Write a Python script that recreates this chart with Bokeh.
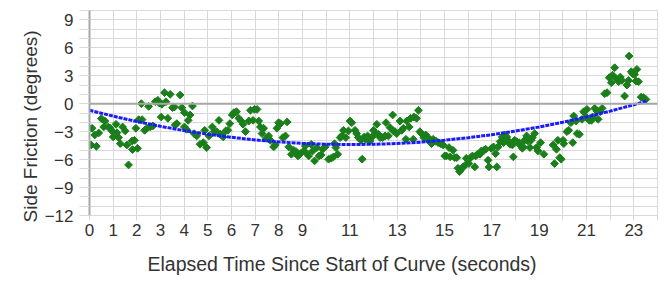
import numpy as np
from bokeh.plotting import figure
from bokeh.models import FixedTicker, Span, Title, Range1d
from bokeh.embed import file_html
from bokeh.resources import INLINE

# ---- data ----
time_s = [
    0.0, 0.07, 0.11, 0.22, 0.29, 0.39, 0.5, 0.6, 0.65, 0.79, 0.88, 0.95, 1.0, 1.12, 1.16, 1.23, 1.3, 1.4,
    1.51, 1.58, 1.65, 1.8, 1.82, 1.9, 1.96, 2.03, 2.08, 2.19, 2.22, 2.33, 2.43, 2.5, 2.57, 2.68, 2.78, 2.89,
    2.95, 3.03, 3.06, 3.17, 3.23, 3.31, 3.41, 3.51, 3.59, 3.62, 3.69, 3.83, 3.9, 4.01, 4.01, 4.1, 4.17, 4.25,
    4.35, 4.42, 4.53, 4.67, 4.81, 4.87, 4.95, 5.05, 5.19, 5.26, 5.37, 5.47, 5.54, 5.65, 5.75, 5.85, 5.93,
    6.03, 6.1, 6.21, 6.31, 6.41, 6.49, 6.59, 6.73, 6.8, 6.91, 6.97, 7.08, 7.15, 7.22, 7.29, 7.36, 7.47,
    7.57, 7.64, 7.78, 7.85, 7.92, 7.99, 8.07, 8.17, 8.28, 8.35, 8.42, 8.53, 8.63, 8.73, 8.81, 8.91, 9.05,
    9.12, 9.19, 9.26, 9.37, 9.43, 9.51, 9.61, 9.7, 9.79, 9.85, 9.96, 10.1, 10.21, 10.31, 10.35, 10.41,
    10.49, 10.59, 10.66, 10.73, 10.83, 10.94, 11.01, 11.08, 11.22, 11.29, 11.36, 11.47, 11.52, 11.61,
    11.66, 11.75, 11.85, 11.92, 12.0, 12.07, 12.14, 12.21, 12.28, 12.39, 12.49, 12.53, 12.63, 12.7, 12.81,
    12.84, 12.91, 12.98, 13.12, 13.19, 13.26, 13.37, 13.4, 13.51, 13.57, 13.68, 13.71, 13.82, 13.9, 13.96,
    14.03, 14.13, 14.21, 14.31, 14.35, 14.45, 14.52, 14.63, 14.73, 14.83, 14.94, 15.01, 15.08, 15.19,
    15.24, 15.36, 15.43, 15.52, 15.57, 15.64, 15.71, 15.78, 15.89, 15.92, 16.03, 16.11, 16.18, 16.28,
    16.32, 16.39, 16.5, 16.56, 16.67, 16.74, 16.84, 16.88, 16.98, 17.07, 17.16, 17.21, 17.26, 17.35,
    17.44, 17.49, 17.54, 17.63, 17.68, 17.77, 17.87, 17.91, 17.96, 18.05, 18.15, 18.22, 18.29, 18.33,
    18.38, 18.47, 18.52, 18.61, 18.66, 18.71, 18.81, 18.89, 18.95, 19.06, 19.2, 19.59, 19.65, 19.73,
    19.79, 19.87, 19.93, 20.01, 20.04, 20.17, 20.25, 20.34, 20.42, 20.46, 20.56, 20.6, 20.7, 20.81,
    20.88, 20.98, 21.02, 21.12, 21.21, 21.26, 21.35, 21.44, 21.49, 21.58, 21.66, 21.77, 21.87, 21.96,
    22.05, 22.1, 22.19, 22.24, 22.36, 22.43, 22.5, 22.61, 22.71, 22.78, 22.8, 22.89, 22.95, 23.03,
    23.09, 23.13, 23.2, 23.31, 23.41, 23.51,
]
friction_deg = [
    -2.64, -4.43, -2.64, -3.36, -4.57, -3.14, -1.61, -2.5, -1.86, -2.5, -2.64, -2.93, -3.57, -2.21, -3.11,
    -3.64, -4.29, -2.5, -2.93, -4.43, -6.57, -4.0, -4.93, -3.93, -2.64, -4.79, -1.71, 0.0, -1.71, -2.86,
    -2.64, -0.29, -2.5, -2.39, 0.21, 0.36, 0.07, -1.43, -0.07, 1.18, 0.21, -1.57, 1.0, -0.43, -0.36, -2.29,
    -2.14, 0.93, -0.43, -0.96, -2.5, -2.75, -1.79, -1.21, -0.25, -3.21, -3.46, -4.36, -4.18, -2.86, -4.71,
    -3.46, -2.5, -3.0, -3.0, -1.79, -3.29, -3.57, -2.93, -2.86, -2.14, -1.21, -0.96, -0.86, -1.57, -1.86,
    -2.21, -3.0, -1.86, -0.71, -1.79, -0.61, -0.61, -1.86, -2.5, -3.21, -2.64, -3.71, -3.46, -3.93, -4.64,
    -4.43, -2.64, -2.04, -2.14, -3.64, -3.46, -1.96, -4.64, -5.43, -5.0, -5.14, -5.61, -5.36, -5.07,
    -4.54, -5.36, -5.61, -4.36, -5.07, -6.14, -4.71, -5.61, -5.5, -4.89, -4.64, -5.96, -5.86, -5.71,
    -4.29, -4.71, -5.43, -3.64, -3.46, -2.86, -3.64, -2.93, -1.86, -2.04, -2.86, -3.21, -3.64, -3.93,
    -5.96, -3.57, -3.82, -3.46, -4.0, -3.64, -2.86, -3.21, -2.21, -3.29, -3.64, -3.64, -3.46, -2.04,
    -3.46, -2.57, -1.21, -2.93, -3.0, -3.21, -1.86, -2.86, -2.64, -3.82, -1.86, -2.5, -1.57, -3.82,
    -1.43, -1.57, -0.71, -3.0, -3.21, -3.64, -3.36, -3.64, -4.0, -4.29, -3.82, -4.0, -4.18, -4.29, -4.43,
    -5.61, -5.61, -4.71, -5.71, -5.0, -5.79, -5.79, -6.93, -7.29, -7.04, -6.79, -6.57, -5.86, -6.43,
    -5.79, -5.61, -6.79, -5.61, -5.43, -5.43, -5.07, -5.0, -4.89, -6.07, -6.79, -4.79, -4.64, -5.36,
    -6.79, -4.64, -4.07, -3.57, -4.18, -3.36, -3.57, -3.93, -4.36, -4.43, -5.71, -3.93, -4.07, -4.18,
    -4.54, -4.79, -4.64, -3.93, -3.46, -4.0, -4.71, -3.93, -3.64, -3.21, -4.71, -5.07, -4.18, -5.43,
    -4.43, -6.43, -4.89, -3.93, -5.79, -5.96, -3.93, -4.29, -3.0, -2.86, -2.04, -4.18, -1.32, -1.86,
    -3.21, -3.29, -1.68, -0.86, -1.43, -0.61, -1.79, -1.79, -1.43, -0.5, -0.79, -1.68, -0.86, -0.5,
    1.07, 1.18, 2.79, 2.25, 3.07, 3.86, 2.71, 2.36, 2.86, 2.5, 0.82, 2.0, 2.5, 5.11, 3.43, 3.21, 3.14,
    2.43, 3.68, 2.36, 0.71, 0.64, 0.46,
]

# polynomial trend line
trend_time_s = [0, 1, 2, 3, 4, 5, 6, 7, 8, 9, 10, 11, 12, 13, 14, 15, 16, 17, 18, 19, 20, 21, 22, 23, 23.55]
trend_deg = [-0.71, -1.34, -1.92, -2.43, -2.89, -3.28, -3.61, -3.89, -4.10, -4.26, -4.35, -4.38, -4.36,
             -4.27, -4.13, -3.92, -3.65, -3.33, -2.94, -2.50, -1.99, -1.42, -0.80, -0.11, 0.29]

x_grid_ticks = list(range(0, 25))
x_labelled_ticks = [0, 1, 2, 3, 4, 5, 6, 7, 8, 9, 11, 13, 15, 17, 19, 21, 23]
y_labelled_ticks = [-12, -9, -6, -3, 0, 3, 6, 9]
y_grid_ticks = list(range(-12, 11))

x_title = "Elapsed Time Since Start of Curve (seconds)"
y_title = "Side Friction (degrees)"

FONT = "Liberation Sans"
TXT = "#333333"
GRID = "#d9d9d9"
DARK = "#a6a6a6"

p = figure(width=666, height=281, output_backend="svg", toolbar_location=None,
           x_range=Range1d(0, 24), y_range=Range1d(-12, 10),
           min_border_left=89, min_border_right=9, min_border_top=10, min_border_bottom=66)
p.background_fill_color = "white"
p.border_fill_color = "white"
p.outline_line_color = GRID

# grid
p.xgrid.ticker = FixedTicker(ticks=x_grid_ticks)
p.xgrid.grid_line_color = GRID
p.ygrid.ticker = FixedTicker(ticks=y_labelled_ticks, minor_ticks=y_grid_ticks)
p.ygrid.grid_line_color = GRID
p.ygrid.minor_grid_line_color = GRID

# x axis
xa = p.xaxis[0]
xa.ticker = FixedTicker(ticks=x_grid_ticks)
xa.major_label_overrides = {t: ("" if t not in x_labelled_ticks else str(t)) for t in x_grid_ticks}
xa.axis_line_color = GRID
xa.major_tick_line_color = GRID
xa.major_tick_out = 5
xa.major_tick_in = 0
xa.minor_tick_line_color = None
xa.major_label_text_font = FONT
xa.major_label_text_font_size = "17px"
xa.major_label_text_color = TXT
xa.major_label_standoff = 3

# y axis
ya = p.yaxis[0]
ya.ticker = FixedTicker(ticks=y_labelled_ticks, minor_ticks=y_grid_ticks)
ya.axis_line_color = DARK
ya.axis_line_width = 2
ya.major_tick_line_color = GRID
ya.minor_tick_line_color = GRID
ya.major_tick_out = 10
ya.major_tick_in = 0
ya.minor_tick_out = 10
ya.minor_tick_in = 0
ya.major_label_text_font = FONT
ya.major_label_text_font_size = "17px"
ya.major_label_text_color = TXT
ya.major_label_standoff = 6

# zero line
p.add_layout(Span(location=0, dimension="width", line_color=DARK, line_width=2))

# axis titles (a blank spacer title pushes the x title down)
p.add_layout(Title(text=" ", text_font=FONT, text_font_size="9px", standoff=0), "below")
p.add_layout(Title(text=x_title, align="left", offset=58, text_font=FONT, text_font_size="19.5px",
                   text_color=TXT, text_font_style="normal", standoff=0), "below")
p.add_layout(Title(text=y_title, align="left", offset=-7, text_font=FONT, text_font_size="19px",
                   text_color=TXT, text_font_style="normal", standoff=2), "left")

# data
p.scatter(time_s, friction_deg, marker="square", angle=np.pi / 4, size=5.5,
          fill_color="#1a7f1a", line_color="#1a7f1a")
p.line(trend_time_s, trend_deg, line_color="#1a1aff", line_width=3, line_dash="4 1")

open("out.html", "w").write(file_html(p, INLINE))
